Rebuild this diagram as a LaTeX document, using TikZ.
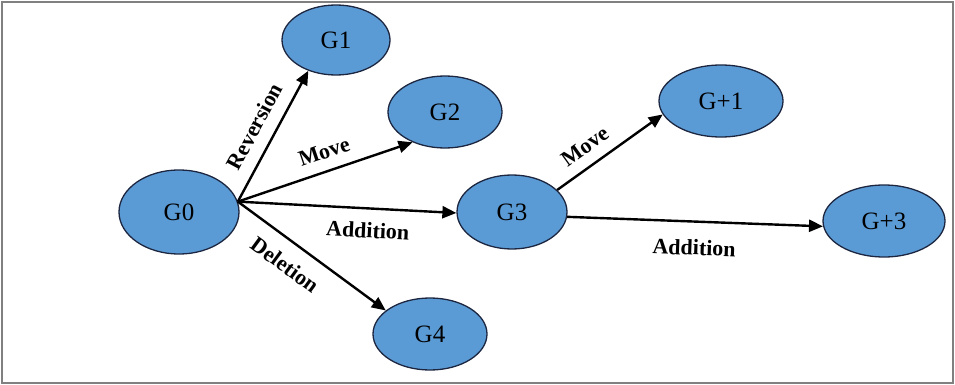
\documentclass[tikz,border=0pt]{standalone}
\usepackage{fontspec}
\setmainfont{Liberation Serif}
\usetikzlibrary{positioning, shapes.geometric, arrows.meta}
\definecolor{gblue}{RGB}{91,155,213}
\definecolor{gline}{RGB}{28,38,64}

\begin{document}
\begin{tikzpicture}[x=1pt, y=-1pt, every node/.style={font=\fontsize{25}{28}\selectfont},
    gnode/.style={ellipse, draw=gline, fill=gblue, line width=1.3pt, inner sep=0pt},
    move/.style={line width=2.4pt, -{Triangle[length=14pt, width=12pt]}},
    elab/.style={font=\fontsize{22}{26}\selectfont\bfseries, sloped, inner sep=3pt}]
    \useasboundingbox (0,0) rectangle (955,385);
    \draw[gray, line width=1.4pt] (2,2) rectangle (953,383);

    \node[gnode, minimum width=120pt, minimum height=84pt] (g0) at (179,212) {G0};
    \node[gnode, minimum width=108pt, minimum height=70pt] (g1) at (336,40) {G1};
    \node[gnode, minimum width=114pt, minimum height=72pt] (g2) at (445,112) {G2};
    \node[gnode, minimum width=110pt, minimum height=74pt] (g3) at (512,212) {G3};
    \node[gnode, minimum width=114pt, minimum height=72pt] (g4) at (430,334) {G4};
    \node[gnode, minimum width=124pt, minimum height=72pt] (gp1) at (721,101) {G+1};
    \node[gnode, minimum width=122pt, minimum height=72pt] (gp3) at (884,221) {G+3};

    \draw[move] (g0.10) -- (g1.228) node[elab, pos=0.5, above=9pt] (rev) {Reversion};
    \draw[move] (g0.10) -- (g2.223) node[elab, pos=0.53, above=8pt] (mv1) {Move};
    \draw[move] (g0.10) -- (g3.181) node[elab, pos=0.6, below=10pt] (add1) {Addition};
    \draw[move] (g0.10) -- (g4.152) node[elab, pos=0.41, below=11pt] (del) {Deletion};
    \draw[move] (g3.26) -- (gp1.193) node[elab, pos=0.37, above=8pt] (mv2) {Move};
    \draw[move] (g3.355) -- (gp3.185) node[elab, pos=0.5, below=14pt] (add2) {Addition};
\end{tikzpicture}
\end{document}
